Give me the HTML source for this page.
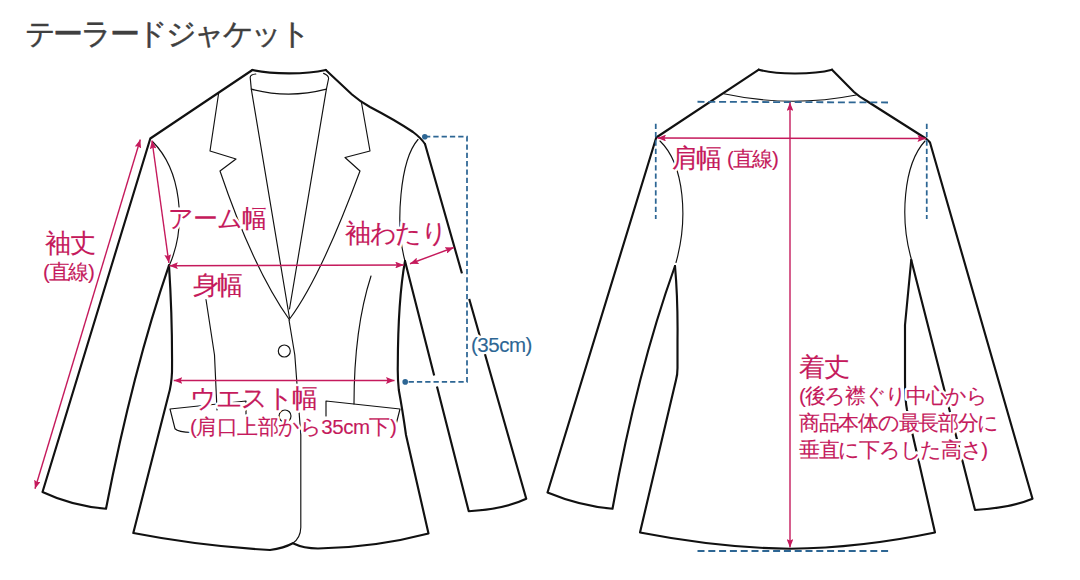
<!DOCTYPE html>
<html><head><meta charset="utf-8">
<style>
html,body{margin:0;padding:0;background:#fff;width:1080px;height:580px;overflow:hidden}
svg{display:block}
.k{fill:none;stroke:#111;stroke-width:2.15;stroke-linejoin:round;stroke-linecap:round}
.t{fill:none;stroke:#111;stroke-width:1.15;stroke-linecap:round;stroke-linejoin:round}
.m{fill:none;stroke:#c51a5c;stroke-width:1.4}
.b{fill:none;stroke:#2d6694;stroke-width:1.75;stroke-dasharray:5.3 3}
.bh{stroke-dasharray:7 3.8;stroke-width:1.8}
text{font-family:"Liberation Sans",sans-serif}
</style></head>
<body>
<svg width="1080" height="580" viewBox="0 0 1080 580">
<defs>
<marker id="ah" viewBox="0 0 10 8" refX="10" refY="4" markerWidth="8.5" markerHeight="6.8" markerUnits="userSpaceOnUse" orient="auto-start-reverse">
<path d="M0,0 L10,4 L0,8 L1.8,4 Z" fill="#c51a5c"/>
</marker>
</defs>
<text x="24.8" y="44.2" font-size="30" letter-spacing="-2.42" fill="#3f3f3f" stroke="#3f3f3f" stroke-width="0.45">テーラードジャケット</text>
<!-- ===== FRONT JACKET ===== -->
<g>
<!-- thin lines -->
<path class="t" d="M255.8,74 Q250.2,74.5 250.2,77.5 L251.3,89.1 L289.5,318"/>
<path class="t" d="M323.6,73.4 Q328.6,75.5 328.6,78.5 L326.4,89.1 L289.5,309"/>
<path class="t" d="M251.3,89.1 Q288.3,99 326.4,89.1"/>
<path class="t" d="M218.75,92.5 L210,151 L236,159 L220,171 C240,230 265,285 289.6,320"/>
<path class="t" d="M361.25,101.25 L370,151 L345,157.5 L360,171 C340,225 315,285 289.6,319"/>
<path class="t" d="M289,320 L294.8,355 L300.8,435 L300.8,527.5 Q300.5,538 292.8,543.2"/>
<path class="t" d="M152.5,141.5 C181,170 187,225 169.5,265"/>
<path class="t" d="M418,139.5 C400,160 395,225 405,261"/>
<path class="t" d="M206,299.5 L214.5,355 L217,410"/>
<path class="t" d="M371,276 C360,310 354,350 354,404"/>
<path class="t" d="M246,416 L246,401 L170,409 L175,428.75 Q178,432 192,432.5"/>
<path class="t" d="M326,416 L326,401 L400,409 L394,432.5"/>
<circle class="t" cx="284.3" cy="351" r="6"/>
<circle class="t" cx="285" cy="416" r="6"/>
<!-- thick outline -->
<path class="k" d="M252.4,70 C272,74.5 306,74.5 325.8,70"/>
<path class="k" d="M252.4,70 L150.3,138.5 L42.5,492 Q72,506 106,508.7 Q133,370 169,265.4"/>
<path class="k" d="M169,265.4 Q172.5,320 172,372 Q171.5,385 168.5,395 L133.3,533 Q200,546 270,550 Q284,548 292.8,543.2 Q304,548.5 318,548.5 C360,548 400,541 428.5,533.5 L406,435 Q402.5,410 398.8,390 Q397.5,378 397.8,365 Q398,300 405,261"/>
<path class="k" d="M405,261 L468.75,511.25 Q505,509 526.25,498.75 L425,144"/>
<path class="k" d="M325.8,70 L352,94.5 Q360,101.5 370,107 Q395,120 413,132 Q421,138 425,144"/>
</g>

<!-- white gaps for dashed line crossings -->
<path d="M461.5,273.5 L469,299 M434.2,375.5 L437,386.5" stroke="#fff" stroke-width="4" fill="none"/>
<!-- blue dashed -->
<path class="b" d="M425,136.7 L467,136.7 L467,381.9 L405.2,381.9"/>
<circle cx="424.8" cy="136.7" r="2.8" fill="#2d6694"/>
<circle cx="405.2" cy="381.9" r="2.8" fill="#2d6694"/>

<!-- magenta arrows front -->
<path class="m" d="M140.3,139.5 L35,488.75" marker-start="url(#ah)" marker-end="url(#ah)"/>
<path class="m" d="M152,140.5 L168.9,263" marker-start="url(#ah)" marker-end="url(#ah)"/>
<path class="m" d="M169.4,265.8 L403.75,265" marker-start="url(#ah)" marker-end="url(#ah)"/>
<path class="m" d="M410,263.75 L453.75,247.5" marker-start="url(#ah)" marker-end="url(#ah)"/>
<path class="m" d="M173.75,380.5 L394.5,380.5" marker-start="url(#ah)" marker-end="url(#ah)"/>


<!-- ===== BACK JACKET ===== -->
<g>
<path class="t" d="M723.75,93.75 Q790,108 856.25,95"/>
<path class="t" d="M660,141 C685,165 688,220 676,262.5"/>
<path class="t" d="M925,141 C903,165 900,220 911.25,258.75"/>
<path class="k" d="M758.8,69.7 C776,74.5 812,75 832,69.7"/>
<path class="k" d="M758.8,69.7 L656.25,137.5 L547.5,492.5 Q580,506 612.5,508.75 Q637,372 675,266"/>
<path class="k" d="M675,266 Q678,300 677.5,340 L677.5,368 Q677.5,375 676,380 L640,532.5 Q720,548 790,548.75 Q860,548 935,532.5 L907,410 Q905,400 905,380 L905,325 L911.25,260"/>
<path class="k" d="M911.25,260 L975,510 Q1010,508 1032.5,498.75 L930,142.5 Q928,140 926.25,138.75 L866,100.5 Q859,96.5 854,92 L832,69.7"/>
</g>
<path class="b bh" d="M697.5,101.75 L888,102.5"/>
<path class="b" d="M655.75,123.75 L655.75,219"/>
<path class="b" d="M926.75,123.75 L926.75,219"/>
<path class="b bh" d="M697.5,551 L889,551"/>
<path class="m" d="M657.5,138 L926,138.5" marker-start="url(#ah)" marker-end="url(#ah)"/>
<path class="m" d="M790,102.5 L790,547.5" marker-start="url(#ah)" marker-end="url(#ah)"/>


<g fill="#fff" stroke="#fff" stroke-width="5" stroke-linejoin="round"><text x="168" y="227" font-size="25" letter-spacing="-0.9">アーム幅</text><text x="45" y="252" font-size="25.5" letter-spacing="-1.45">袖丈</text><text x="43" y="279" font-size="20.5" letter-spacing="-1.3">(直線)</text><text x="345" y="242.3" font-size="25.5" letter-spacing="-1.45">袖わたり</text><text x="192.5" y="294" font-size="25.5" letter-spacing="-1.45">身幅</text><text x="190" y="407" font-size="25.5" letter-spacing="-1.45">ウエスト幅</text><text x="190" y="434" font-size="20.5" letter-spacing="-0.5">(肩口上部から35cm下)</text><text x="471" y="352" font-size="20.5" letter-spacing="-0.5">(35cm)</text><text x="671.5" y="167" font-size="25.5" letter-spacing="-1.45">肩幅</text><text x="727" y="166" font-size="20.5" letter-spacing="-1.3">(直線)</text><text x="799" y="376" font-size="25.5" letter-spacing="-1.45">着丈</text><text x="799" y="403" font-size="20.5" letter-spacing="-1.3">(後ろ襟ぐり中心から</text><text x="799" y="430" font-size="20.5" letter-spacing="-1.3">商品本体の最長部分に</text><text x="799" y="457" font-size="20.5" letter-spacing="-1.3">垂直に下ろした高さ)</text></g>
<g stroke-width="0.12"><text x="168" y="227" font-size="25" letter-spacing="-0.9" fill="#c51a5c" stroke="#c51a5c">アーム幅</text><text x="45" y="252" font-size="25.5" letter-spacing="-1.45" fill="#c51a5c" stroke="#c51a5c">袖丈</text><text x="43" y="279" font-size="20.5" letter-spacing="-1.3" fill="#c51a5c" stroke="#c51a5c">(直線)</text><text x="345" y="242.3" font-size="25.5" letter-spacing="-1.45" fill="#c51a5c" stroke="#c51a5c">袖わたり</text><text x="192.5" y="294" font-size="25.5" letter-spacing="-1.45" fill="#c51a5c" stroke="#c51a5c">身幅</text><text x="190" y="407" font-size="25.5" letter-spacing="-1.45" fill="#c51a5c" stroke="#c51a5c">ウエスト幅</text><text x="190" y="434" font-size="20.5" letter-spacing="-0.5" fill="#c51a5c" stroke="#c51a5c">(肩口上部から35cm下)</text><text x="471" y="352" font-size="20.5" letter-spacing="-0.5" fill="#2d6694" stroke="#2d6694">(35cm)</text><text x="671.5" y="167" font-size="25.5" letter-spacing="-1.45" fill="#c51a5c" stroke="#c51a5c">肩幅</text><text x="727" y="166" font-size="20.5" letter-spacing="-1.3" fill="#c51a5c" stroke="#c51a5c">(直線)</text><text x="799" y="376" font-size="25.5" letter-spacing="-1.45" fill="#c51a5c" stroke="#c51a5c">着丈</text><text x="799" y="403" font-size="20.5" letter-spacing="-1.3" fill="#c51a5c" stroke="#c51a5c">(後ろ襟ぐり中心から</text><text x="799" y="430" font-size="20.5" letter-spacing="-1.3" fill="#c51a5c" stroke="#c51a5c">商品本体の最長部分に</text><text x="799" y="457" font-size="20.5" letter-spacing="-1.3" fill="#c51a5c" stroke="#c51a5c">垂直に下ろした高さ)</text></g>

</svg>
</body></html>
